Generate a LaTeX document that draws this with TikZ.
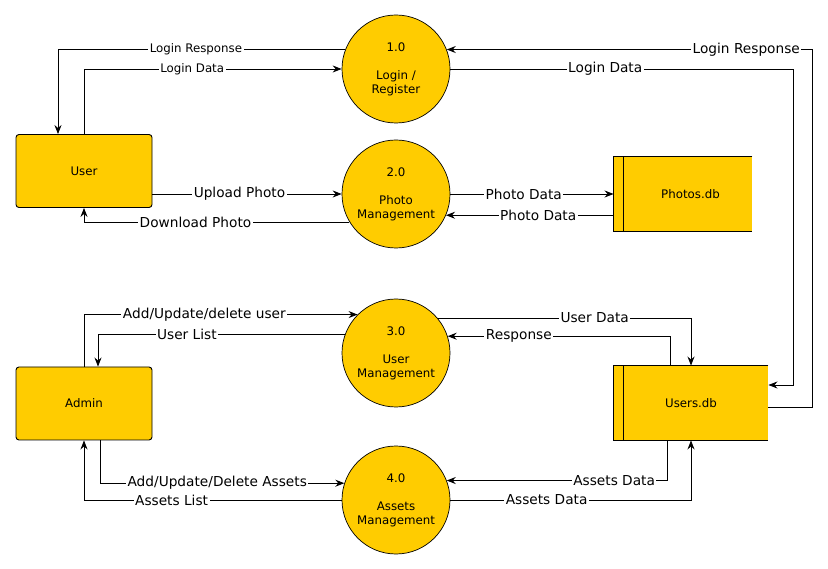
\documentclass[tikz,border=0pt]{standalone}
\usepackage{fontspec}
\setmainfont{DejaVu Sans}
\usetikzlibrary{arrows.meta}
\definecolor{dfdyellow}{RGB}{255,204,0}

\begin{document}
\begin{tikzpicture}[x=1pt, y=-1pt, line width=0.9pt, >={Stealth[length=9pt,width=7pt,inset=3pt]}]
  \tikzstyle{entity}=[rectangle,draw,rounded corners=3pt,fill=dfdyellow,minimum width=136pt,minimum height=73pt,font=\fontsize{11.8}{14}\selectfont]
  \tikzstyle{process}=[circle,draw,fill=dfdyellow,line width=0.7pt,minimum size=108pt,inner sep=0pt,align=center,font=\fontsize{11.8}{14}\selectfont]
  \tikzstyle{store}=[rectangle,fill=dfdyellow,minimum height=74pt,font=\fontsize{11.8}{14}\selectfont]
  \tikzstyle{flow}=[fill=white,inner sep=1.5pt,font=\fontsize{13.7}{16}\selectfont]
  \tikzstyle{smallflow}=[flow,font=\fontsize{11.8}{14}\selectfont]

  \useasboundingbox (0,0) rectangle (828,569);

  % external entities
  \node[entity] (user) at (84,171) {User};
  \node[entity] (admin) at (84,403.5) {Admin};

  % processes
  \node[process] (p1) at (396,69) {1.0\\[14pt]Login /\\Register};
  \node[process] (p2) at (396,194) {2.0\\[14pt]Photo\\Management};
  \node[process] (p3) at (396,353) {3.0\\[14pt]User\\Management};
  \node[process] (p4) at (396,500) {4.0\\[14pt]Assets\\Management};

  % data stores
  \node[store,minimum width=138pt] (photos) at (683,194) {\hspace*{15pt}Photos.db};
  \node[store,minimum width=154pt] (users) at (691,403) {Users.db};
  \foreach \s in {photos,users} {
    \draw (\s.north east) -- (\s.north west) -- (\s.south west) -- (\s.south east);
    \draw ([xshift=10pt]\s.north west) -- ([xshift=10pt]\s.south west);
  }

  \coordinate (r1) at (812,0);
  \coordinate (r2) at (793,385);

  % login
  \draw[->] (p1.159) -| node[smallflow,pos=0.26] {Login Response} ([xshift=-26pt]user.north);
  \draw[->] (user.north) |- node[smallflow,pos=0.71] {Login Data} (p1.west);
  \draw[<-] (p1.21) -- node[flow,pos=0.82] {Login Response} (p1.21 -| r1) |- ([yshift=-4pt]users.east);
  \draw[->] (p1.east) -| node[flow,pos=0.226] {Login Data} (r2) -- ([yshift=18pt]users.east);

  % photos
  \draw[->] ([yshift=-23pt]user.east) -- node[flow,pos=0.46] {Upload Photo} (p2.west);
  \draw[->] (p2.211) -| node[flow,pos=0.29] {Download Photo} (user.south);
  \draw[->] (p2.east) -- node[flow,pos=0.45] {Photo Data} (photos.west);
  \draw[<-] (p2.-23) -- node[flow,pos=0.55] {Photo Data} (p2.-23 -| photos.west);

  % users
  \draw[->] (admin.north) |- node[flow,pos=0.72] {Add/Update/delete user} (p3.135);
  \draw[->] (p3.160) -| node[flow,pos=0.32] {User List} ([xshift=14pt]admin.north);
  \draw[->] (p3.40) -| node[flow,pos=0.31] {User Data} (users.north);
  \draw[->] ([xshift=-21pt]users.north) |- node[flow,pos=0.84] {Response} (p3.18);

  % assets
  \draw[->] ([xshift=16pt]admin.south) |- node[flow,pos=0.74] {Add/Update/Delete Assets} (p4.162);
  \draw[->] (p4.west) -| node[flow,pos=0.33] {Assets List} (admin.south);
  \draw[->] ([xshift=-24pt]users.south) |- node[flow,pos=0.62] {Assets Data} (p4.21);
  \draw[->] (p4.east) -| node[flow,pos=0.2] {Assets Data} (users.south);
\end{tikzpicture}
\end{document}
